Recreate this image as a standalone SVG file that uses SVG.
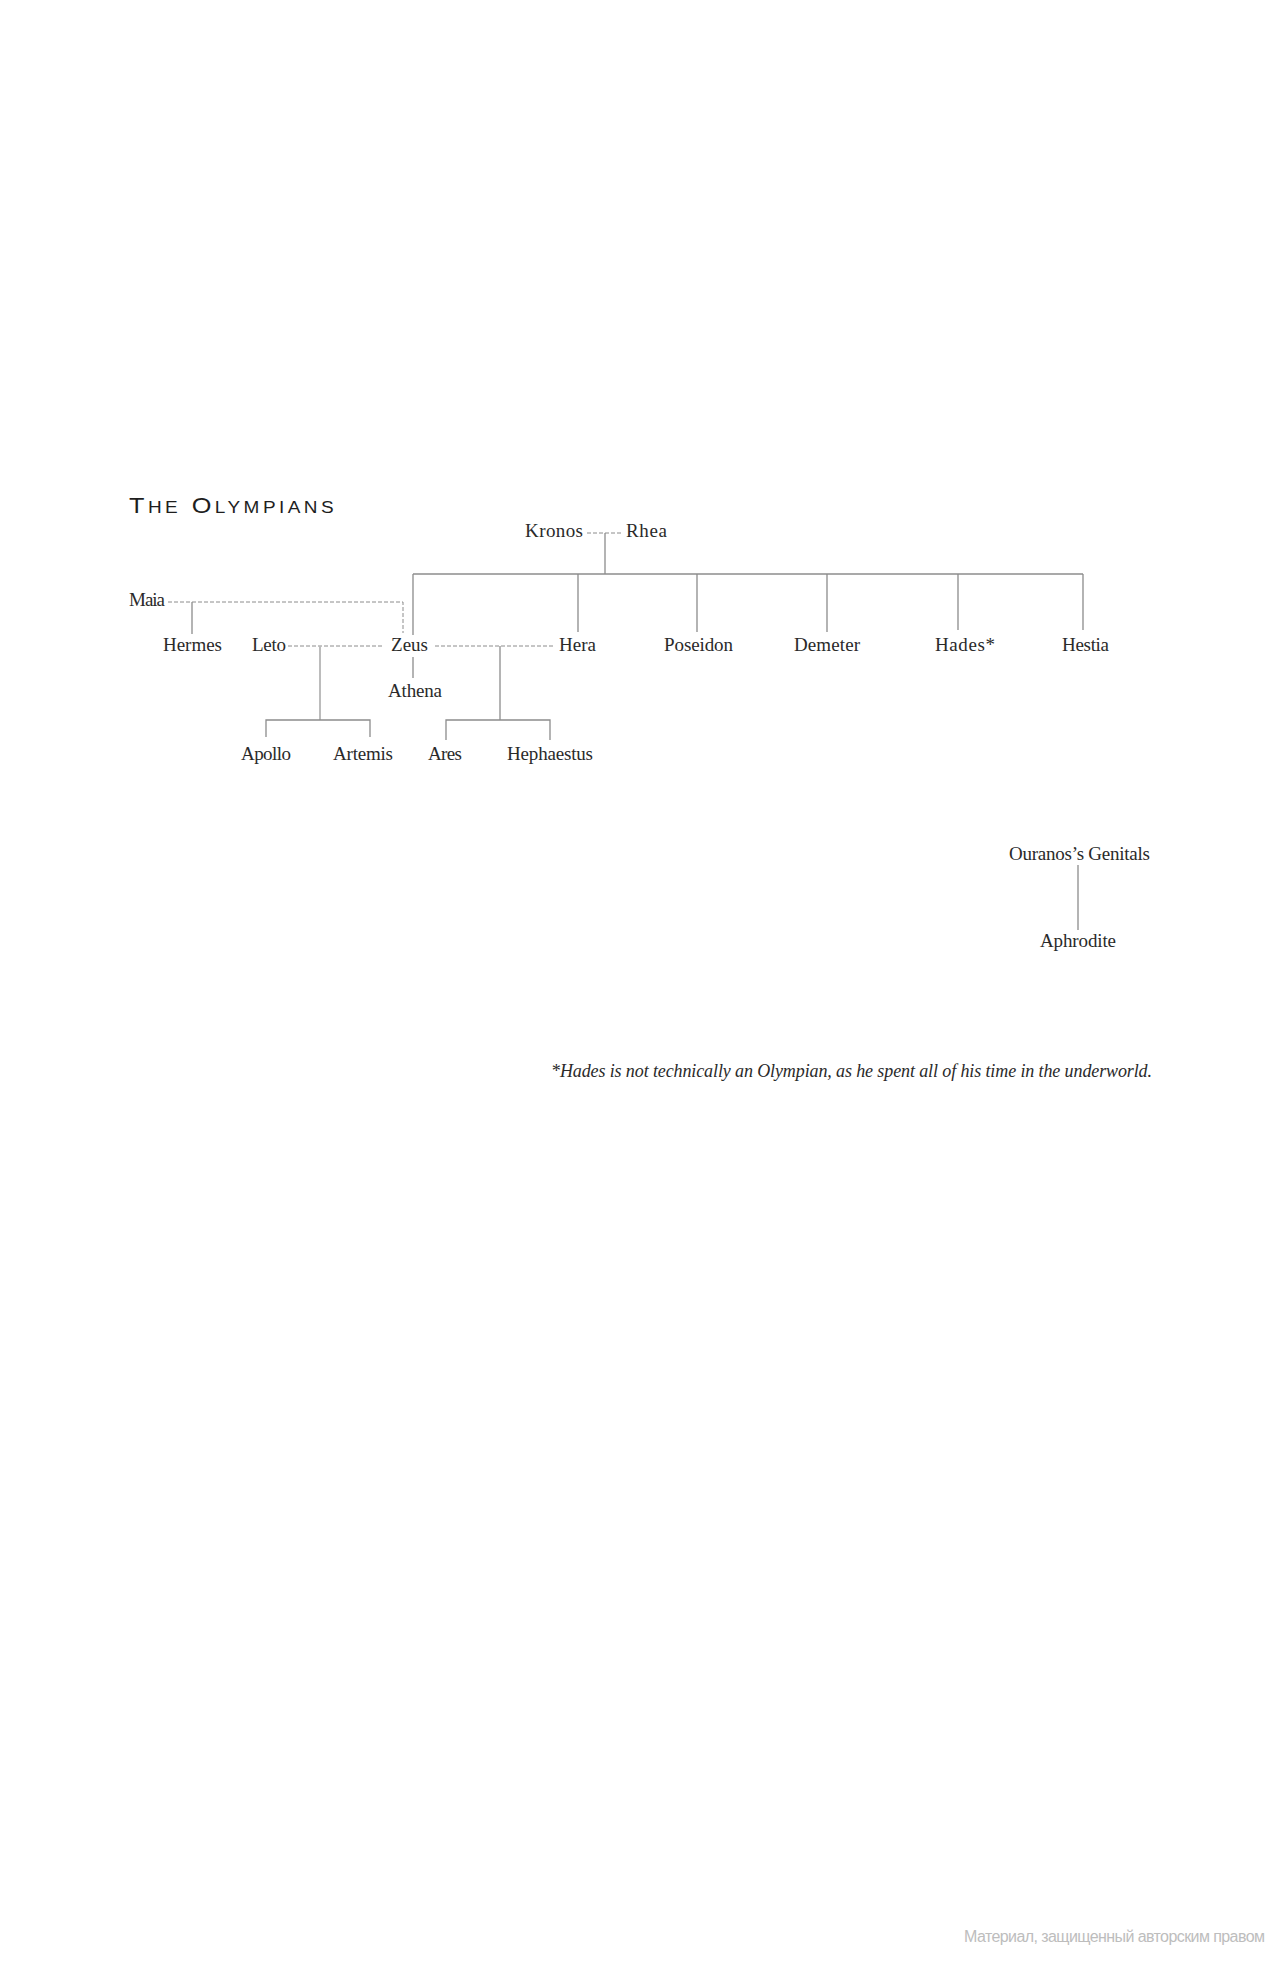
<svg xmlns="http://www.w3.org/2000/svg" width="1280" height="1963" viewBox="0 0 1280 1963">
<style>
.n{font-family:"Liberation Serif",serif;font-size:19px;fill:#2a2a2a}
.t{font-family:"Liberation Sans",Arial,sans-serif;font-size:22px;fill:#1e1e1e}
.sc{font-size:16.5px}
.f{font-family:"Liberation Serif",serif;font-size:18px;font-style:italic;fill:#2a2a2a}
.w{font-family:"Liberation Sans",Arial,sans-serif;font-size:16px;fill:#bdbdbd}
.s{fill:none;stroke:#8c8c8c;stroke-width:1.3}
.l{fill:none;stroke:#bcbcbc;stroke-width:2}
.d{fill:none;stroke:#8c8c8c;stroke-width:1;stroke-dasharray:4 2}
</style>
<rect width="1280" height="1963" fill="#ffffff"/>
<text class="t" transform="translate(129 513) scale(1.15 1)" x="0" y="0" textLength="178">T<tspan class="sc">HE</tspan> O<tspan class="sc">LYMPIANS</tspan></text>
<g id="connectors">
<path class="d" d="M587 533H622"/>
<path class="s" d="M605 533V574"/>
<path class="s" d="M413 574H1083"/>
<path class="s" d="M413 574V635M578 574V632M697 574V632M827 574V632M958 574V630M1083 574V630"/>
<path class="d" d="M168 602H403V633"/>
<path class="s" d="M192 602V634"/>
<path class="d" d="M288 646H383"/>
<path class="d" d="M435 646H553"/>
<path class="s" d="M413 657V678"/>
<path class="l" d="M320 646V720"/>
<path class="s" d="M266 737V720H370V737"/>
<path class="s" d="M500 646V720"/>
<path class="s" d="M446 740V720H550V740"/>
<path class="s" d="M1078 865V930"/>
</g>
<g id="kronos"><text class="n" x="525" y="537" textLength="58">Kronos</text></g>
<g id="rhea"><text class="n" x="626" y="537" textLength="41">Rhea</text></g>
<g id="maia"><text class="n" x="129" y="606" textLength="36">Maia</text></g>
<g id="hermes"><text class="n" x="163" y="651" textLength="59">Hermes</text></g>
<g id="leto"><text class="n" x="252" y="651" textLength="34">Leto</text></g>
<g id="zeus"><text class="n" x="391" y="651" textLength="37">Zeus</text></g>
<g id="hera"><text class="n" x="559" y="651" textLength="37">Hera</text></g>
<g id="poseidon"><text class="n" x="664" y="651" textLength="69">Poseidon</text></g>
<g id="demeter"><text class="n" x="794" y="651" textLength="66">Demeter</text></g>
<g id="hades"><text class="n" x="935" y="651" textLength="60">Hades*</text></g>
<g id="hestia"><text class="n" x="1062" y="651" textLength="47">Hestia</text></g>
<g id="athena"><text class="n" x="388" y="697" textLength="54">Athena</text></g>
<g id="apollo"><text class="n" x="241" y="760" textLength="50">Apollo</text></g>
<g id="artemis"><text class="n" x="333" y="760" textLength="60">Artemis</text></g>
<g id="ares"><text class="n" x="428" y="760" textLength="34">Ares</text></g>
<g id="hephaestus"><text class="n" x="507" y="760" textLength="86">Hephaestus</text></g>
<g id="ouranos"><text class="n" x="1009" y="860" textLength="141">Ouranos’s Genitals</text></g>
<g id="aphrodite"><text class="n" x="1040" y="947" textLength="76">Aphrodite</text></g>
<text class="f" x="551" y="1077" textLength="601">*Hades is not technically an Olympian, as he spent all of  his time in the underworld.</text>
<text class="w" x="964" y="1942" textLength="301">Материал, защищенный авторским правом</text>
</svg>
